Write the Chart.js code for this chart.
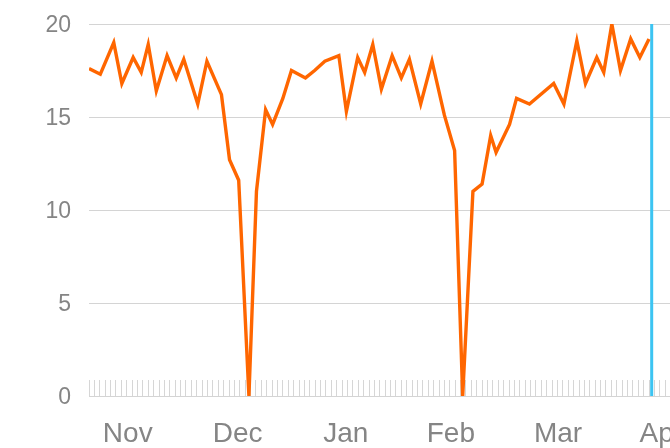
<!DOCTYPE html>
<html lang="en">
<head>
  <meta charset="UTF-8">
  <title>Daily values Nov - Apr</title>
  <script src="https://cdn.jsdelivr.net/npm/chart.js"></script>
  <style>
    html, body { margin: 0; padding: 0; background: #fff; overflow: hidden; }
    .wrap { position: relative; width: 719px; height: 448px; }
  </style>
</head>
<body>
  <div class="wrap"><canvas id="lineChart"></canvas></div>

  <script>
    // x positions in axis units (one small tick = one unit)
    const xs = [0, 2.1, 4.6, 6.1, 8.2, 9.7, 11.0, 12.5, 14.5, 16.2, 17.6, 20.2, 21.9, 24.6, 26.1, 27.8,
      29.7, 31.1, 32.8, 34.1, 36.0, 37.6, 40.2, 41.9, 43.8, 46.4, 47.8, 49.9, 51.2, 52.7, 54.3, 56.3,
      58.0, 59.5, 61.6, 63.7, 66.0, 67.9, 69.4, 71.3, 73.0, 74.6, 75.6, 78.1, 79.4, 81.8, 86.3, 88.2,
      90.6, 92.2, 94.3, 95.6, 97.1, 98.7, 100.6, 102.3, 104.0];
    const values = [17.6, 17.3, 19.0, 16.8, 18.2, 17.4, 18.9, 16.4, 18.3, 17.1, 18.1, 15.7, 18.0, 16.2, 12.7, 11.6,
      0, 11.0, 15.4, 14.6, 16.0, 17.5, 17.1, 17.5, 18.0, 18.3, 15.3, 18.2, 17.4, 18.9, 16.5, 18.3,
      17.1, 18.1, 15.7, 18.0, 15.1, 13.2, 0, 11.0, 11.4, 14.0, 13.1, 14.6, 16.0, 15.7, 16.8, 15.7,
      19.1, 16.8, 18.2, 17.4, 20.0, 17.5, 19.2, 18.2, 19.2];
    const monthLabels = ['Nov', 'Dec', 'Jan', 'Feb', 'Mar', 'Apr'];
    const monthPos = [7.2, 27.6, 47.7, 67.2, 87.1, 106.3];
    const markerX = 104.5;
    const yTicks = [0, 5, 10, 15, 20];

    const X_MAX = 117;
    const font = "'Liberation Sans', Arial, sans-serif";

    const points = xs.map((x, i) => ({ x: x, y: values[i] }));

    const ctx = document.getElementById('lineChart').getContext('2d');
    new Chart(ctx, {
      type: 'line',
      data: {
        datasets: [
          {
            data: points,
            borderColor: '#ff6600',
            borderWidth: 3.4,
            pointRadius: 0,
            tension: 0,
            fill: false
          },
          {
            data: [{ x: markerX, y: 0 }, { x: markerX, y: 20 }],
            borderColor: '#3cc4f2',
            borderWidth: 3,
            pointRadius: 0,
            fill: false
          }
        ]
      },
      options: {
        responsive: true,
        maintainAspectRatio: false,
        animation: false,
        layout: { padding: { top: 24, right: 0, bottom: 0, left: 0 } },
        plugins: { legend: { display: false }, tooltip: { enabled: false } },
        scales: {
          x: {
            type: 'linear',
            min: 0,
            max: X_MAX,
            afterBuildTicks: (scale) => {
              const t = [];
              for (let i = 0; i <= X_MAX; i++) t.push({ value: i });
              monthPos.forEach(p => t.push({ value: p }));
              t.sort((a, b) => a.value - b.value);
              scale.ticks = t;
            },
            afterFit: (scale) => {
              scale.height = 52;
              scale.paddingLeft = 0;
              scale.paddingRight = 0;
            },
            grid: {
              drawOnChartArea: false,
              drawTicks: true,
              tickLength: -16,
              tickWidth: 1,
              tickColor: (c) => (c.tick && monthPos.includes(c.tick.value)) ? 'rgba(0,0,0,0)' : '#d6d6d6'
            },
            border: { display: true, color: '#d4d4d4', width: 1 },
            ticks: {
              autoSkip: false,
              maxRotation: 0,
              padding: 37,
              color: '#858585',
              font: { family: font, size: 28 },
              callback: (v) => {
                const i = monthPos.indexOf(v);
                return i >= 0 ? monthLabels[i] : '';
              }
            }
          },
          y: {
            min: 0,
            max: 20,
            afterBuildTicks: (scale) => { scale.ticks = yTicks.map(v => ({ value: v })); },
            afterFit: (scale) => {
              scale.width = 89;
              scale.paddingTop = 0;
              scale.paddingBottom = 0;
            },
            grid: { color: '#d4d4d4', lineWidth: 1, drawTicks: false },
            border: { display: false },
            ticks: {
              padding: 18,
              labelOffset: 2,
              color: '#858585',
              font: { family: font, size: 23 }
            }
          }
        }
      }
    });
  </script>
</body>
</html>
